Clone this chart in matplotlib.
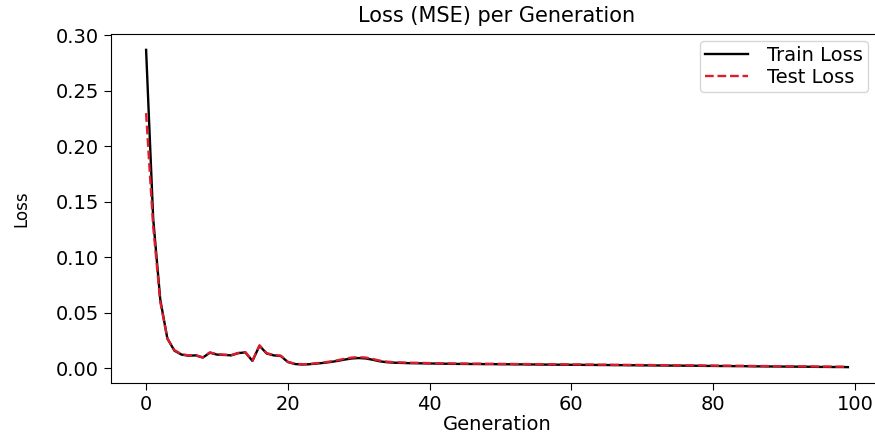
import numpy as np
import matplotlib
matplotlib.use("Agg")
import matplotlib.pyplot as plt

# loss values, one per generation (0..99)
train_loss = [
    0.287, 0.135, 0.062, 0.027, 0.016, 0.0125, 0.0115, 0.0118, 0.0098, 0.0142,
    0.0125, 0.0122, 0.0118, 0.0138, 0.0145, 0.0068, 0.0205, 0.0135, 0.0118, 0.0112,
    0.0058, 0.0040, 0.0036, 0.0038, 0.0044, 0.0050, 0.0058, 0.0068, 0.0080, 0.0090,
    0.0094, 0.0090, 0.0078, 0.0064, 0.0056, 0.0052, 0.0050, 0.0048, 0.0047, 0.0046,
    0.0045, 0.0044, 0.0043, 0.0042, 0.0041, 0.0041, 0.0040, 0.0040, 0.0039, 0.0039,
    0.0038, 0.0038, 0.0037, 0.0037, 0.0036, 0.0036, 0.0035, 0.0035, 0.0034, 0.0034,
    0.0033, 0.0033, 0.0032, 0.0032, 0.0031, 0.0031, 0.0030, 0.0030, 0.0029, 0.0029,
    0.0028, 0.0028, 0.0027, 0.0027, 0.0026, 0.0026, 0.0025, 0.0025, 0.0024, 0.0023,
    0.0023, 0.0022, 0.0022, 0.0021, 0.0021, 0.0020, 0.0019, 0.0019, 0.0018, 0.0018,
    0.0017, 0.0017, 0.0016, 0.0016, 0.0015, 0.0014, 0.0014, 0.0013, 0.0013, 0.0012,
]
test_loss = [
    0.230, 0.128, 0.060, 0.027, 0.0165, 0.0128, 0.0118, 0.0120, 0.0100, 0.0145,
    0.0128, 0.0124, 0.0120, 0.0140, 0.0147, 0.0070, 0.0208, 0.0138, 0.0121, 0.0115,
    0.0060, 0.0042, 0.0038, 0.0040, 0.0047, 0.0054, 0.0063, 0.0074, 0.0087, 0.0098,
    0.0102, 0.0098, 0.0085, 0.0070, 0.0061, 0.0056, 0.0054, 0.0052, 0.0051, 0.0050,
    0.0048, 0.0047, 0.0046, 0.0045, 0.0044, 0.0044, 0.0043, 0.0043, 0.0042, 0.0042,
    0.0041, 0.0041, 0.0040, 0.0040, 0.0039, 0.0039, 0.0038, 0.0038, 0.0037, 0.0037,
    0.0036, 0.0036, 0.0035, 0.0035, 0.0034, 0.0034, 0.0033, 0.0033, 0.0032, 0.0032,
    0.0031, 0.0031, 0.0030, 0.0030, 0.0029, 0.0029, 0.0028, 0.0028, 0.0027, 0.0026,
    0.0026, 0.0025, 0.0025, 0.0024, 0.0024, 0.0023, 0.0022, 0.0022, 0.0021, 0.0021,
    0.0020, 0.0020, 0.0019, 0.0019, 0.0018, 0.0017, 0.0017, 0.0016, 0.0016, 0.0015,
]
generations = list(range(len(train_loss)))

fig = plt.figure(figsize=(8.75, 4.38), dpi=100)
# axes runs a little past the right edge, like the cropped original
ax = fig.add_axes([111 / 875, 55 / 438, 772 / 875, 349 / 438])

ax.plot(generations, train_loss, 'k-', label='Train Loss', lw=1.7)
ax.plot(generations, test_loss, '--', color='#dd1c2c', label='Test Loss', lw=1.7)

ax.set_title('Loss (MSE) per Generation', fontsize=15, pad=9)
ax.set_xlabel('Generation', fontsize=14, labelpad=1)
ax.set_ylabel('Loss', fontsize=12, labelpad=18)
ax.tick_params(labelsize=14, length=5)
ax.set_yticks([0.0, 0.05, 0.10, 0.15, 0.20, 0.25, 0.30])
ax.set_xticks([0, 20, 40, 60, 80, 100])

fig.legend(*ax.get_legend_handles_labels(), loc='upper right',
           bbox_to_anchor=(868 / 875, 1 - 41 / 438), borderaxespad=0,
           fontsize=14, handlelength=2.2, borderpad=0.25, labelspacing=0.15,
           handletextpad=1.0)

fig.savefig("out.png", dpi=100)
